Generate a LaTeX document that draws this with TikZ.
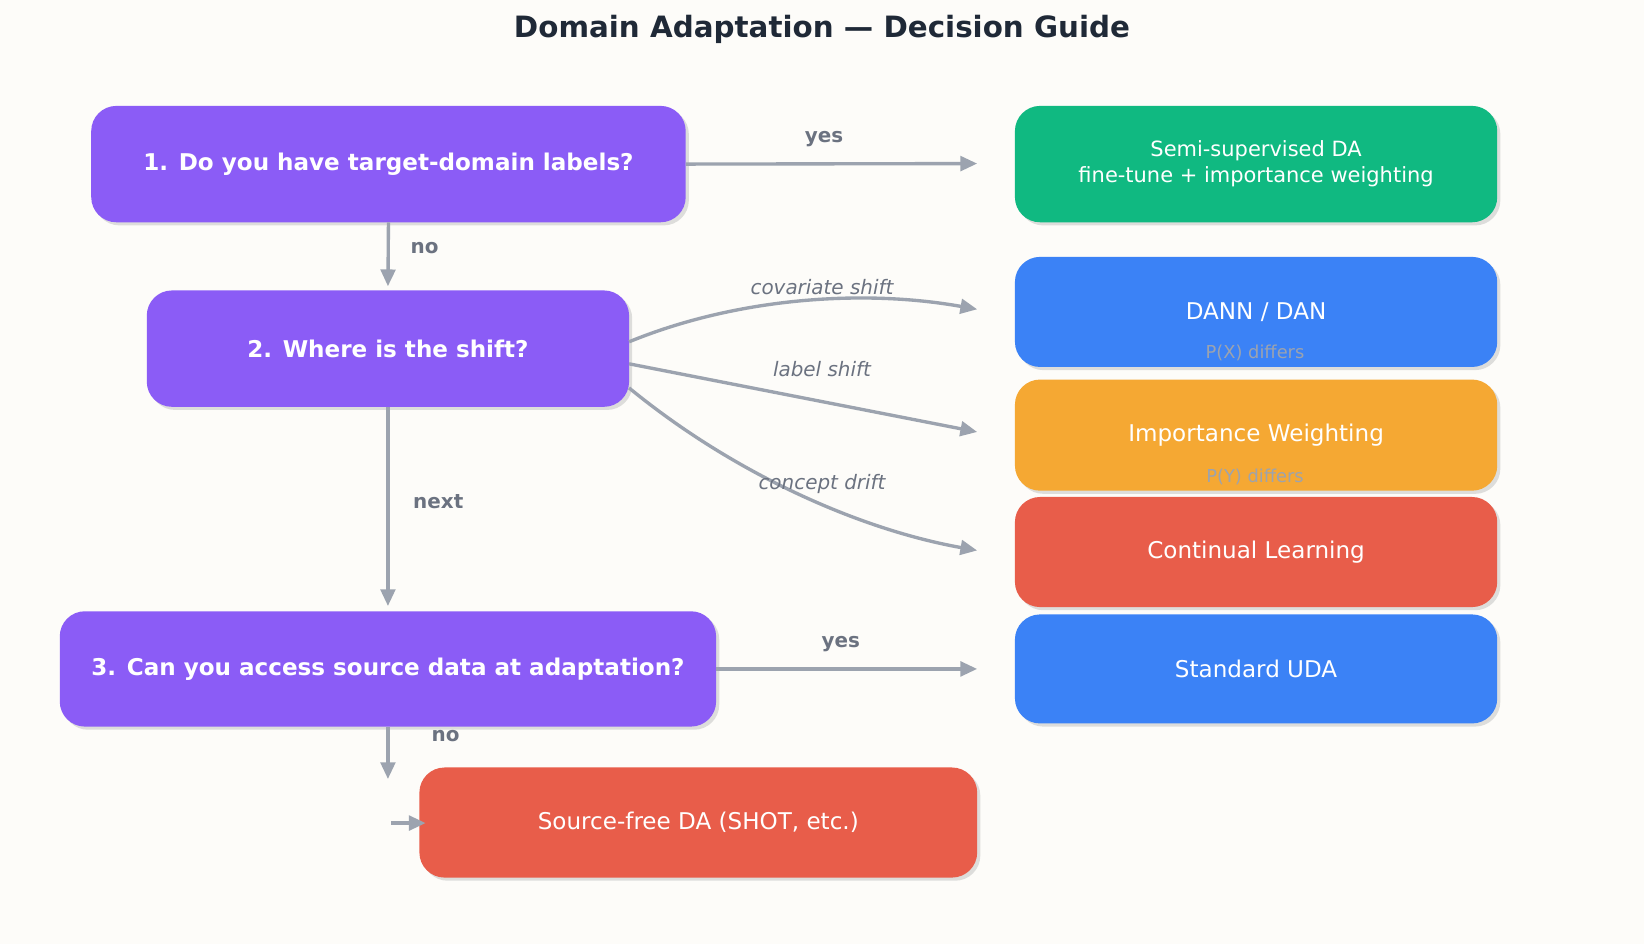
\documentclass[tikz,border=0pt]{standalone}
\usepackage{fontspec}
\setmainfont{DejaVu Sans}
\usetikzlibrary{arrows.meta}
\definecolor{bg}{HTML}{FDFCF9}
\definecolor{purp}{HTML}{8B5CF6}
\definecolor{grn}{HTML}{10B981}
\definecolor{blu}{HTML}{3B82F6}
\definecolor{org}{HTML}{F5A833}
\definecolor{rd}{HTML}{E85D4A}
\definecolor{arr}{HTML}{9CA3AF}
\definecolor{lab}{HTML}{6B7280}
\definecolor{ttl}{HTML}{1F2937}
\tikzset{
 box/.style={rounded corners=24pt, text=white, align=center, inner sep=0pt,
   drop shadow={shadow xshift=3pt,shadow yshift=-3pt,fill=black!25}},
 conn/.style={draw=arr, line width=3.2pt, -{Triangle[length=16pt,width=14pt]}},
 lbl/.style={text=lab, font=\fontsize{19}{22}\selectfont\bfseries},
 ilbl/.style={text=lab, font=\fontsize{19}{22}\selectfont\itshape},
 sm/.style={text=arr, font=\fontsize{17}{20}\selectfont},
 qf/.style={font=\fontsize{22}{26}\selectfont\bfseries},
 af/.style={font=\fontsize{22}{26}\selectfont}
}
\usetikzlibrary{shadows}
\begin{document}
\begin{tikzpicture}[x=1pt,y=-1pt]
\fill[bg] (0,0) rectangle (1568,900);
\useasboundingbox (0,0) rectangle (1568,900);
\node[text=ttl,font=\fontsize{28}{32}\selectfont\bfseries] (title) at (784,28) {Domain Adaptation — Decision Guide};
\node[box,fill=purp,qf,minimum width=567pt,minimum height=111pt] (q1) at (370.5,156.5) {1. Do you have target-domain labels?};
\node[box,fill=purp,qf,minimum width=460pt,minimum height=111pt] (q2) at (370,332.5) {2. Where is the shift?};
\node[box,fill=purp,qf,minimum width=626pt,minimum height=110pt] (q3) at (370,638) {3. Can you access source data at adaptation?};
\node[box,fill=grn,font=\fontsize{20}{25}\selectfont,minimum width=460pt,minimum height=111pt] (semi) at (1198,156.5) {Semi-supervised DA\\fine-tune + importance weighting};
\node[box,fill=blu,af,minimum width=460pt,minimum height=105pt] (dann) at (1198,297.5) {DANN / DAN};
\node[box,fill=org,af,minimum width=460pt,minimum height=106pt] (iw) at (1198,415) {Importance Weighting};
\node[box,fill=rd,af,minimum width=460pt,minimum height=105pt] (cl) at (1198,526.5) {Continual Learning};
\node[box,fill=blu,af,minimum width=460pt,minimum height=104pt] (uda) at (1198,638) {Standard UDA};
\node[box,fill=rd,af,minimum width=532pt,minimum height=105pt] (sf) at (666,784.5) {Source-free DA (SHOT, etc.)};
\node[sm] (px) at (1197,337) {P(X) differs};
\node[sm] (py) at (1197,455) {P(Y) differs};
\coordinate (a1) at (932,156);
\coordinate (a2) at (370,273);
\coordinate (a3) at (932,295);
\coordinate (a4) at (932,412);
\coordinate (a5) at (932,525);
\coordinate (a6) at (370,578);
\coordinate (a7) at (932,638);
\coordinate (a8) at (370,743);
\coordinate (s1) at (373,785);
\coordinate (s2) at (406,785);
\draw[conn] (q1.east) -- (a1);
\draw[conn] (q1.south) -- (a2);
\draw[conn] (600,326) .. controls (700,285) and (820,275) .. (a3);
\draw[conn] (600,347) -- (a4);
\draw[conn] (600,370) .. controls (700,452) and (820,505) .. (a5);
\draw[conn] (q2.south) -- (a6);
\draw[conn] (q3.east) -- (a7);
\draw[conn] (q3.south) -- (a8);
\draw[conn] (s1) -- (s2);
\node[lbl] (l1) at (786,133) {yes};
\node[lbl] (l2) at (405,237) {no};
\node[ilbl] (l3) at (784,274) {covariate shift};
\node[ilbl] (l4) at (784,352) {label shift};
\node[ilbl] (l5) at (784,462) {concept drift};
\node[lbl] (l6) at (418,478) {next};
\node[lbl] (l7) at (802,614) {yes};
\node[lbl] (l8) at (425,702) {no};
\end{tikzpicture}
\end{document}
